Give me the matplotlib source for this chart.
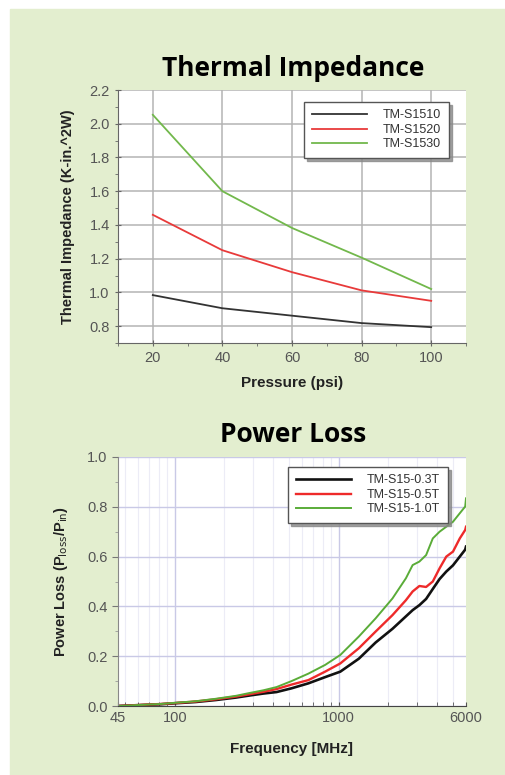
import matplotlib
matplotlib.use("Agg")
import matplotlib.pyplot as plt
from matplotlib.patches import Rectangle
from matplotlib.ticker import MultipleLocator, FixedLocator, NullFormatter, LogLocator

# ---------------- DATA ----------------

# Thermal impedance vs pressure
pressure = [20, 40, 60, 80, 100]
imp_s1510 = [0.984, 0.906, 0.862, 0.818, 0.794]
imp_s1520 = [1.46, 1.25, 1.12, 1.012, 0.95]
imp_s1530 = [2.053, 1.60, 1.382, 1.206, 1.02]
imp_labels = ["TM-S1510", "TM-S1520", "TM-S1530"]

# Power loss vs frequency (MHz)
freq = [45, 53, 69, 82, 101, 134, 178, 237, 285, 347, 418, 516, 654, 828,
        1025, 1330, 1684, 2134, 2578, 2834, 3116, 3424, 3762, 4139, 4548,
        4997, 5497, 5932, 6000]
loss_03 = [0.0, 0.002, 0.005, 0.007, 0.011, 0.016, 0.024, 0.034, 0.042, 0.05,
           0.056, 0.071, 0.091, 0.116, 0.138, 0.19, 0.255, 0.31, 0.36, 0.385,
           0.405, 0.43, 0.47, 0.51, 0.54, 0.565, 0.60, 0.628, 0.64]
loss_05 = [0.0, 0.002, 0.006, 0.008, 0.012, 0.018, 0.027, 0.038, 0.047, 0.057,
           0.068, 0.086, 0.104, 0.138, 0.171, 0.232, 0.299, 0.365, 0.425, 0.46,
           0.482, 0.478, 0.50, 0.553, 0.60, 0.62, 0.673, 0.707, 0.72]
loss_10 = [0.0, 0.002, 0.006, 0.008, 0.013, 0.019, 0.029, 0.041, 0.052, 0.063,
           0.076, 0.10, 0.13, 0.165, 0.205, 0.279, 0.352, 0.432, 0.513, 0.566,
           0.58, 0.606, 0.673, 0.70, 0.72, 0.74, 0.774, 0.801, 0.834]
loss_labels = ["TM-S15-0.3T", "TM-S15-0.5T", "TM-S15-1.0T"]
freq_ticks = [45, 100, 1000, 6000]

# ---------------- STYLE ----------------

BG = "#e3eecf"
TICK_FONT = ["Liberation Sans Narrow", "Liberation Sans", "DejaVu Sans"]
LABEL_FONT = ["Liberation Sans", "DejaVu Sans"]
TITLE_FONT = ["Open Sans", "DejaVu Sans"]

fig = plt.figure(figsize=(5.05, 7.75), dpi=100)
fig.patch.set_facecolor("white")
fig.patches.append(Rectangle((10 / 505, 0), 1, 1 - 9 / 775,
                             transform=fig.transFigure, color=BG, zorder=-10))


def style_ticks(ax):
    for lab in ax.get_xticklabels() + ax.get_yticklabels():
        lab.set_family(TICK_FONT)
        lab.set_fontsize(10.5)
        lab.set_color("#555555")


def add_legend(ax, lines, labels, anchor):
    leg = ax.legend(lines, labels, loc="upper right", bbox_to_anchor=anchor,
                    borderaxespad=0, fancybox=False,
                    shadow={"color": "#888888", "alpha": 0.8},
                    edgecolor="#555555", framealpha=1, handlelength=4.4,
                    handletextpad=1.3, labelspacing=0.2, borderpad=0.6,
                    prop={"family": TICK_FONT, "size": 9})
    leg.get_frame().set_linewidth(1.0)
    for t in leg.get_texts():
        t.set_color("#333333")
    return leg


# ---------------- THERMAL IMPEDANCE ----------------

ax1 = fig.add_axes([118 / 505, 1 - 343 / 775, 348 / 505, 253 / 775])
ax1.set_facecolor("white")
l1, = ax1.plot(pressure, imp_s1510, color="#333333", lw=1.3)
l2, = ax1.plot(pressure, imp_s1520, color="#e83a3a", lw=1.3)
l3, = ax1.plot(pressure, imp_s1530, color="#72b84c", lw=1.3)
ax1.set_xlim(10, 110)
ax1.set_ylim(0.7, 2.2)
ax1.xaxis.set_major_locator(FixedLocator(pressure))
ax1.xaxis.set_minor_locator(MultipleLocator(10))
ax1.yaxis.set_major_locator(MultipleLocator(0.2))
ax1.yaxis.set_minor_locator(MultipleLocator(0.1))
ax1.yaxis.set_major_formatter(plt.FormatStrFormatter("%.1f"))
ax1.grid(True, which="major", color="#b4b4b4", lw=1.1)
ax1.set_axisbelow(True)
for s in ["top", "right"]:
    ax1.spines[s].set_visible(False)
for s in ["left", "bottom"]:
    ax1.spines[s].set_color("#666666")
ax1.tick_params(which="major", direction="inout", length=5, color="#666666")
ax1.tick_params(which="minor", direction="out", length=2.5, color="#666666")
style_ticks(ax1)
add_legend(ax1, [l1, l2, l3], imp_labels, (0.951, 0.953))
ax1.set_xlabel("Pressure (psi)", family=LABEL_FONT, fontsize=11, weight="bold",
               color="#222222", labelpad=8)
ax1.set_ylabel("Thermal Impedance (K-in.^2W)", family=LABEL_FONT, fontsize=10.5,
               weight="bold", color="#222222", labelpad=10)

fig.text(293 / 505, 1 - 68 / 775, "Thermal Impedance", ha="center", va="center",
         family=TITLE_FONT, fontsize=19, weight="bold", color="black")

# ---------------- POWER LOSS ----------------

ax2 = fig.add_axes([118 / 505, 1 - 706 / 775, 348 / 505, 249 / 775])
ax2.set_facecolor("white")
m1, = ax2.plot(freq, loss_03, color="#111111", lw=1.9)
m2, = ax2.plot(freq, loss_05, color="#ee2a2a", lw=1.7)
m3, = ax2.plot(freq, loss_10, color="#5aac38", lw=1.4)
ax2.set_xscale("log")
ax2.set_xlim(45, 6000)
ax2.set_ylim(0, 1.0)
ax2.xaxis.set_major_locator(FixedLocator(freq_ticks))
ax2.xaxis.set_major_formatter(plt.FuncFormatter(lambda v, p: "%d" % v))
ax2.xaxis.set_minor_locator(LogLocator(base=10, subs=range(2, 10), numticks=20))
ax2.xaxis.set_minor_formatter(NullFormatter())
ax2.yaxis.set_major_locator(MultipleLocator(0.2))
ax2.yaxis.set_minor_locator(MultipleLocator(0.1))
ax2.yaxis.set_major_formatter(plt.FormatStrFormatter("%.1f"))
ax2.grid(True, axis="y", which="major", color="#c9c9e6", lw=1.0)
ax2.grid(True, axis="x", which="minor", color="#ececf6", lw=0.8)
for xv in [100, 1000]:
    ax2.axvline(xv, color="#c9c9e6", lw=1.0, zorder=0)
ax2.set_axisbelow(True)
for s in ["top", "right"]:
    ax2.spines[s].set_visible(False)
ax2.spines["left"].set_color("#888888")
ax2.spines["bottom"].set_color("#444444")
ax2.tick_params(axis="y", which="major", direction="out", length=4, color="#777777")
ax2.tick_params(axis="y", which="minor", direction="out", length=2, color="#999999")
ax2.tick_params(axis="x", which="both", direction="in", length=3, color="#555555")
style_ticks(ax2)
add_legend(ax2, [m1, m2, m3], loss_labels, (0.948, 0.96))
ax2.set_xlabel("Frequency [MHz]", family=LABEL_FONT, fontsize=11, weight="bold",
               color="#222222", labelpad=12)
ax2.set_ylabel(r"Power Loss (P$_{\mathrm{loss}}$/P$_{\mathrm{in}}$)", family=LABEL_FONT,
               fontsize=10.5, weight="bold", color="#222222", labelpad=12)

fig.text(293 / 505, 1 - 435 / 775, "Power Loss", ha="center", va="center",
         family=TITLE_FONT, fontsize=19, weight="bold", color="black")

fig.savefig("out.png", dpi=100, facecolor=fig.get_facecolor())
